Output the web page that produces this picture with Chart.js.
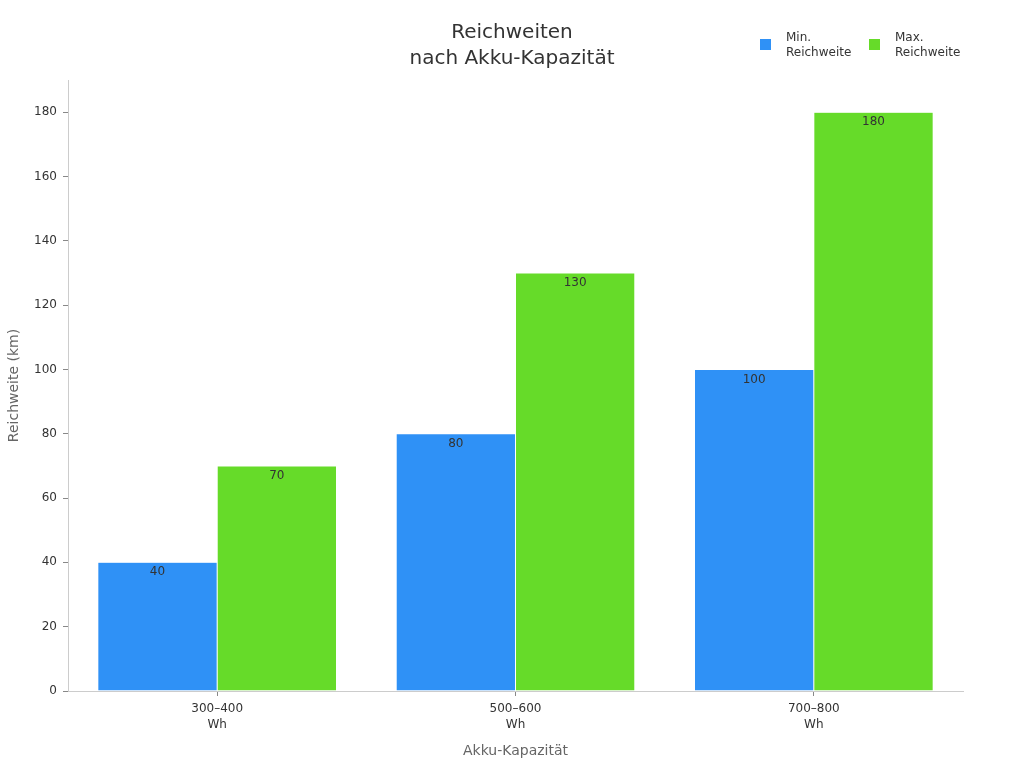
<!DOCTYPE html>
<html>
<head>
<meta charset="utf-8">
<script src="https://cdn.jsdelivr.net/npm/chart.js@4"></script>
<style>
html,body{margin:0;padding:0;background:#fff;}
#wrap{width:1024px;height:768px;}
</style>
</head>
<body>
<div id="wrap"><canvas id="c" width="1024" height="768"></canvas></div>
<script>
const categories = [["300–400", "Wh"], ["500–600", "Wh"], ["700–800", "Wh"]];
const minReichweite = [40, 80, 100];
const maxReichweite = [70, 130, 180];
const seriesNames = [["Min.", "Reichweite"], ["Max.", "Reichweite"]];
const chartTitle = ["Reichweiten", "nach Akku-Kapazität"];
const yTicks = [0, 20, 40, 60, 80, 100, 120, 140, 160, 180];

const FONT = "'DejaVu Sans', sans-serif";
const BLUE = "#2f91f6";
const GREEN = "#66db29";

const valueLabels = {
  id: "valueLabels",
  afterDatasetsDraw(chart) {
    const ctx = chart.ctx;
    ctx.save();
    ctx.font = "12px " + FONT;
    ctx.fillStyle = "#333";
    ctx.textAlign = "center";
    ctx.textBaseline = "middle";
    chart.data.datasets.forEach((ds, i) => {
      chart.getDatasetMeta(i).data.forEach((bar, j) => {
        ctx.fillText(String(ds.data[j]), bar.x, bar.y + 10);
      });
    });
    ctx.restore();
  }
};

const titleAndLegend = {
  id: "titleAndLegend",
  afterDraw(chart) {
    const ctx = chart.ctx;
    ctx.save();
    ctx.textBaseline = "middle";
    ctx.textAlign = "center";
    ctx.fillStyle = "#333";
    ctx.font = "20px " + FONT;
    chartTitle.forEach((t, k) => ctx.fillText(t, chart.width / 2, 33 + k * 26));
    ctx.font = "12px " + FONT;
    ctx.textAlign = "left";
    const xs = [760, 869];
    chart.data.datasets.forEach((ds, i) => {
      ctx.fillStyle = ds.backgroundColor;
      ctx.fillRect(xs[i], 39, 11, 11);
      ctx.fillStyle = "#333";
      seriesNames[i].forEach((t, k) => ctx.fillText(t, xs[i] + 26, 38 + k * 15));
    });
    ctx.restore();
  }
};

new Chart(document.getElementById("c"), {
  type: "bar",
  data: {
    labels: categories,
    datasets: [
      { label: seriesNames[0].join(" "), data: minReichweite, backgroundColor: BLUE, borderColor: "rgba(255,255,255,0.8)", borderWidth: 0.5, categoryPercentage: 0.8, barPercentage: 1.0 },
      { label: seriesNames[1].join(" "), data: maxReichweite, backgroundColor: GREEN, borderColor: "rgba(255,255,255,0.8)", borderWidth: 0.5, categoryPercentage: 0.8, barPercentage: 1.0 }
    ]
  },
  options: {
    responsive: false,
    animation: false,
    layout: { padding: { left: 0, right: 61, top: 80, bottom: 0 } },
    plugins: {
      legend: { display: false },
      tooltip: { enabled: false },
      title: { display: false }
    },
    scales: {
      x: {
        grid: { display: true, drawOnChartArea: false, offset: false, tickLength: 5, color: "#888" },
        border: { display: true, color: "#ccc" },
        ticks: { color: "#333", font: { family: FONT, size: 12, lineHeight: 1.3 }, padding: 5, maxRotation: 0 },
        title: { display: true, text: "Akku-Kapazität", color: "#666", font: { family: FONT, size: 14 }, padding: { top: 14, bottom: 8 } },
        afterFit(s) { s.height = 77; }
      },
      y: {
        min: 0, max: 190,
        grid: { display: true, drawOnChartArea: false, tickLength: 5, color: "#888" },
        border: { display: true, color: "#ccc" },
        ticks: { color: "#333", font: { family: FONT, size: 12 }, padding: 6, stepSize: 20 },
        afterBuildTicks(s) { s.ticks = yTicks.map(v => ({ value: v })); },
        title: { display: true, text: "Reichweite (km)", color: "#666", font: { family: FONT, size: 14 }, padding: { top: 6, bottom: 4 } },
        afterFit(s) { s.width = 68; }
      }
    }
  },
  plugins: [valueLabels, titleAndLegend]
});
</script>
</body>
</html>
